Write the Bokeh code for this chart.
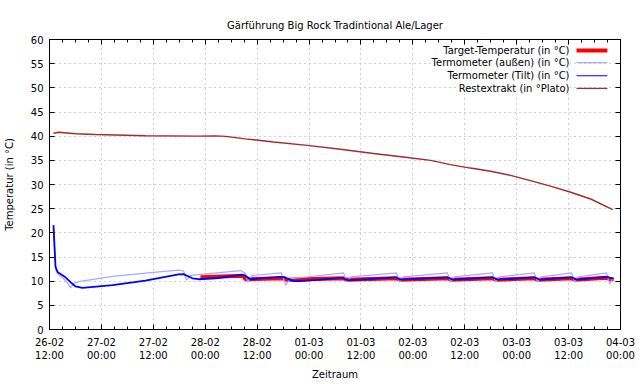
import pandas as pd
from bokeh.plotting import figure
from bokeh.models import (Range1d, FixedTicker, DatetimeTickFormatter, DatetimeAxis,
                          LinearAxis, Label, ColumnDataSource)
from bokeh.embed import file_html
from bokeh.resources import INLINE

START = "2018-02-26 12:00"
END = "2018-03-04 00:00"

# times are hours after START
target_h = [34.9, 44.8, 45.3, 54.3, 54.8, 68.0, 68.7, 80.2, 80.9, 92.0, 92.7,
            102.4, 103.1, 112.1, 112.8, 120.7, 121.4, 128.8, 129.5, 130.4]
target_v = [10.8, 11.1, 10.4, 10.6, 10.3, 10.6, 10.3, 10.6, 10.3, 10.6, 10.3,
            10.6, 10.3, 10.6, 10.3, 10.6, 10.3, 10.7, 10.4, 10.4]

aussen_h = [0.92, 1.39, 2.08, 3.24, 4.16, 4.85, 5.55, 6.70, 14.56, 22.19, 29.82,
            30.98, 31.67, 32.6, 44.2, 45.3, 45.8, 46.9, 53.6, 54.6, 55.7,
            68.0, 68.7, 69.6, 80.2, 80.9, 81.8, 92.0, 92.7, 93.6, 102.4, 103.1,
            104.0, 112.1, 112.8, 113.7, 120.7, 121.4, 122.3, 128.8, 129.5, 130.2]
aussen_v = [21.0, 12.5, 11.3, 10.5, 9.6, 8.6, 9.5, 9.9, 11.0, 11.65, 12.3,
            12.1, 10.2, 11.2, 12.2, 11.6, 9.8, 11.2, 11.7, 9.2, 10.5,
            11.7, 9.8, 10.9, 11.7, 9.8, 10.9, 11.7, 9.8, 10.9, 11.7, 9.8,
            10.9, 11.7, 9.8, 10.9, 11.7, 9.8, 10.9, 11.7, 9.4, 10.6]

tilt_h = [0.92, 1.39, 1.85, 2.54, 3.70, 4.85, 6.01, 7.63, 14.56, 22.19, 29.82,
          30.98, 33.06, 34.44, 38.4, 44.2, 45.1, 46.5, 53.4, 54.3, 56.4, 58.0,
          67.7, 68.9, 70.0, 80.0, 81.1, 92.0, 93.2, 102.4, 103.6, 112.1, 113.3,
          120.7, 121.8, 128.8, 130.4]
tilt_v = [21.6, 13.0, 11.9, 11.5, 10.8, 9.8, 8.9, 8.6, 9.2, 10.1, 11.4,
          11.45, 10.6, 10.4, 10.6, 11.3, 11.2, 10.4, 10.9, 10.8, 10.0, 10.0,
          10.7, 10.2, 10.2, 10.8, 10.3, 10.8, 10.3, 10.8, 10.3, 10.8, 10.3,
          10.8, 10.3, 10.9, 10.5]

extrakt_h = [0.92, 2.1, 6.0, 10.6, 22.2, 33.8, 38.4, 40.7, 45.3, 51.8, 59.6,
             67.3, 74.9, 82.8, 88.1, 92.7, 97.3, 102.0, 106.6, 111.2, 115.8,
             120.5, 125.1, 130.2]
extrakt_v = [40.6, 40.8, 40.5, 40.35, 40.1, 40.0, 40.05, 39.95, 39.45, 38.8, 38.1,
             37.3, 36.4, 35.6, 35.0, 34.1, 33.4, 32.75, 31.9, 30.8, 29.65,
             28.4, 27.0, 24.8]

series_names = ["Target-Temperatur (in °C)", "Termometer (außen) (in °C)",
                "Termometer (Tilt) (in °C)", "Restextrakt (in °Plato)"]
y_ticks = list(range(0, 61, 5))

t_start = pd.Timestamp(START)
t_end = pd.Timestamp(END)
major_ticks = pd.date_range(t_start, t_end, freq="12h")
minor_ticks = pd.date_range(t_start, t_end, freq="3h")


def to_time(hours):
    return (t_start + pd.to_timedelta(hours, unit="h")).to_numpy()


def ms(ts):
    return ts.value / 1e6


FONT = "DejaVu Sans"

p = figure(width=640, height=384, output_backend="svg", toolbar_location=None,
           x_axis_type="datetime",
           x_range=Range1d(t_start, t_end), y_range=Range1d(0, 60),
           min_border_left=49, min_border_right=20, min_border_top=39,
           min_border_bottom=55)

p.title.text = "Gärführung Big Rock Tradintional Ale/Lager"
p.title.align = "center"
p.title.text_font = FONT
p.title.text_font_size = "10px"
p.title.text_font_style = "normal"
p.title.text_color = "black"
p.title.standoff = 18

p.outline_line_color = "black"
p.background_fill_color = "white"
p.border_fill_color = "white"

xticker = FixedTicker(ticks=[ms(t) for t in major_ticks],
                      minor_ticks=[ms(t) for t in minor_ticks])
yticker = FixedTicker(ticks=y_ticks, minor_ticks=[])
fmt_str = "%d-%m\n%H:%M"
xfmt = DatetimeTickFormatter(hours=fmt_str, hourmin=fmt_str, days=fmt_str,
                             minutes=fmt_str, months=fmt_str, years=fmt_str)

bottom_axis = p.below[0]
left_axis = p.left[0]
bottom_axis.ticker = xticker
bottom_axis.formatter = xfmt
left_axis.ticker = yticker
p.xgrid.ticker = xticker
p.ygrid.ticker = yticker
bottom_axis.axis_label = "Zeitraum"
left_axis.axis_label = "Temperatur (in °C)"

top_axis = DatetimeAxis(ticker=xticker,
                        major_label_overrides={ms(t): "" for t in major_ticks})
right_axis = LinearAxis(ticker=yticker,
                        major_label_overrides={v: "" for v in y_ticks})
p.add_layout(top_axis, "above")
p.add_layout(right_axis, "right")

for ax in [bottom_axis, left_axis, top_axis, right_axis]:
    ax.major_tick_in = 5
    ax.major_tick_out = 0
    ax.minor_tick_in = 3
    ax.minor_tick_out = 0
    ax.axis_line_color = "black"
    ax.major_tick_line_color = "black"
    ax.minor_tick_line_color = "black"
    ax.major_label_text_font = FONT
    ax.major_label_text_font_size = "10px"
    ax.major_label_text_color = "black"
    ax.axis_label_text_font = FONT
    ax.axis_label_text_font_size = "10px"
    ax.axis_label_text_font_style = "normal"
    ax.axis_label_text_color = "black"

for ax in [top_axis, right_axis]:
    ax.major_label_standoff = 0

bottom_axis.major_label_standoff = 7
bottom_axis.axis_label_standoff = 5
left_axis.major_label_standoff = 6
left_axis.axis_label_standoff = 13

p.grid.grid_line_color = "#a0a0a0"
p.grid.grid_line_dash = "1 4"
p.grid.grid_line_width = 1

colors = ["#ff0000", "#a8a8ff", "#0000ff", "#a52a2a"]
widths = [4, 1.2, 1.8, 1.4]
data = [(target_h, target_v), (aussen_h, aussen_v), (tilt_h, tilt_v),
        (extrakt_h, extrakt_v)]
for (hh, vv), c, w in zip(data, colors, widths):
    src = ColumnDataSource(dict(x=to_time(hh), y=vv))
    p.line("x", "y", source=src, line_color=c, line_width=w)

# legend (top right, text right-aligned with sample to the right)
span = t_end - t_start
lx_text = t_start + span * 0.9107
lx0 = t_start + span * 0.923
lx1 = t_start + span * 0.977
row_y = [57.7, 55.2, 52.5, 49.9]
leg_widths = [4, 1.2, 1.2, 1.2]
for name, c, w, yy in zip(series_names, colors, leg_widths, row_y):
    p.add_layout(Label(x=ms(lx_text), y=yy, text=name, text_align="right",
                       text_baseline="middle", text_font=FONT,
                       text_font_size="10px", text_color="black",
                       background_fill_color="white"))
    p.segment(x0=[ms(lx0)], y0=[yy], x1=[ms(lx1)], y1=[yy], line_color=c,
              line_width=w)

open("out.html", "w").write(file_html(p, INLINE))
